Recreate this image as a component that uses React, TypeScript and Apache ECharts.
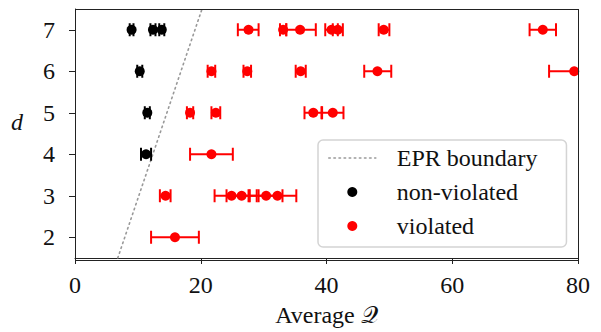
import React, { useEffect, useRef } from "react";
import * as echarts from "echarts";

// d levels and measured average Q with error ranges
const nonViolated: [number, number, number, number][] = [
  // [Q, d, low, high]
  [9.0, 7, 8.7, 9.3],
  [12.4, 7, 12.0, 12.8],
  [13.8, 7, 13.4, 14.2],
  [10.3, 6, 9.9, 10.7],
  [11.5, 5, 11.1, 11.9],
  [11.3, 4, 10.5, 12.1],
];

const violated: [number, number, number, number][] = [
  [27.6, 7, 25.9, 29.2],
  [33.1, 7, 32.6, 33.6],
  [35.8, 7, 33.6, 38.3],
  [40.8, 7, 39.8, 41.8],
  [41.8, 7, 41.0, 42.6],
  [49.1, 7, 48.3, 50.0],
  [74.4, 7, 72.3, 76.5],
  [21.7, 6, 21.1, 22.3],
  [27.4, 6, 26.8, 28.0],
  [35.9, 6, 35.1, 36.7],
  [48.1, 6, 46.0, 50.3],
  [79.4, 6, 75.4, 83.4],
  [18.3, 5, 17.8, 18.8],
  [22.4, 5, 21.7, 23.1],
  [37.9, 5, 36.5, 39.3],
  [41.0, 5, 39.2, 42.7],
  [21.7, 4, 18.3, 25.1],
  [14.4, 3, 13.5, 15.2],
  [24.9, 3, 22.2, 27.6],
  [26.5, 3, 24.1, 28.9],
  [30.4, 3, 27.8, 33.0],
  [32.2, 3, 29.2, 35.2],
  [15.9, 2, 12.1, 19.7],
];

const eprBoundary: [number, number][] = [
  [6.8, 1.5],
  [20.2, 7.5],
];

const xTicks = [0, 20, 40, 60, 80];
const yTicks = [2, 3, 4, 5, 6, 7];

const FONT = "'Liberation Serif', 'DejaVu Serif', serif";
const FS = 24;
const DOT: [number, number] = [1.5, 3.6];

function errorSeries(data: [number, number, number, number][], color: string) {
  return {
    type: "custom",
    clip: true,
    silent: true,
    z: 2,
    data: data.map((p) => [p[2], p[1], p[3]]),
    encode: { x: [0, 2], y: 1 },
    renderItem: (params: any, api: any) => {
      const lo = api.coord([api.value(0), api.value(1)]);
      const hi = api.coord([api.value(2), api.value(1)]);
      const h = 6.5;
      const style = { stroke: color, lineWidth: 2 };
      return {
        type: "group",
        children: [
          { type: "line", shape: { x1: lo[0], y1: lo[1], x2: hi[0], y2: hi[1] }, style },
          { type: "line", shape: { x1: lo[0], y1: lo[1] - h, x2: lo[0], y2: lo[1] + h }, style },
          { type: "line", shape: { x1: hi[0], y1: hi[1] - h, x2: hi[0], y2: hi[1] + h }, style },
        ],
      };
    },
  };
}

export default function App() {
  const ref = useRef<HTMLDivElement>(null);
  useEffect(() => {
    if (!ref.current) return;
    const chart = echarts.init(ref.current, undefined, { renderer: "svg" });
    const axisColor = "#222";
    chart.setOption({
      animation: false,
      backgroundColor: "#fff",
      textStyle: { fontFamily: FONT },
      grid: { left: 75, right: 23, top: 9, bottom: 72, containLabel: false },
      xAxis: {
        type: "value",
        min: 0,
        max: 80,
        name: "Average 𝒬",
        nameLocation: "middle",
        nameGap: 45,
        nameTextStyle: { fontFamily: FONT, fontSize: FS, color: "#111" },
        axisLine: { show: true, lineStyle: { color: axisColor, width: 1 } },
        axisTick: { show: true, length: 6, lineStyle: { color: axisColor }, customValues: xTicks },
        axisLabel: { fontFamily: FONT, fontSize: FS, color: "#111", margin: 15, customValues: xTicks },
        splitLine: { show: false },
      },
      yAxis: {
        type: "value",
        min: 1.5,
        max: 7.5,
        name: "d",
        nameLocation: "middle",
        nameGap: 52,
        nameRotate: 0,
        nameTextStyle: {
          fontFamily: FONT,
          fontSize: FS,
          fontStyle: "italic",
          color: "#111",
          verticalAlign: "bottom",
        },
        axisLine: { show: true, lineStyle: { color: axisColor, width: 1 } },
        axisTick: { show: true, length: 6, lineStyle: { color: axisColor }, customValues: yTicks },
        axisLabel: { fontFamily: FONT, fontSize: FS, color: "#111", margin: 20, customValues: yTicks },
        splitLine: { show: false },
      },
      legend: {
        orient: "vertical",
        left: 318,
        top: 140,
        padding: [6, 29, 9, 10],
        itemGap: 10,
        itemWidth: 47,
        itemHeight: 10,
        borderColor: "#d4d4d4",
        borderWidth: 1.5,
        borderRadius: 5,
        backgroundColor: "rgba(255,255,255,0.85)",
        textStyle: {
          fontFamily: FONT,
          fontSize: FS,
          color: "#111",
          padding: [0, 0, 0, 16],
        },
        data: [
          {
            name: "EPR boundary",
            itemStyle: { opacity: 0 },
            lineStyle: { color: "#999", width: 1.6, type: DOT, cap: "round" },
          },
          { name: "non-violated", icon: "circle" },
          { name: "violated", icon: "circle" },
        ],
      },
      series: [
        {
          name: "EPR boundary",
          type: "line",
          data: eprBoundary,
          symbol: "none",
          z: 1,
          lineStyle: { color: "#999", width: 1.6, type: DOT, cap: "round" },
          itemStyle: { color: "#999" },
        },
        { ...errorSeries(nonViolated, "#000") },
        { ...errorSeries(violated, "#ff0000") },
        {
          name: "non-violated",
          type: "scatter",
          data: nonViolated.map((p) => [p[0], p[1]]),
          symbolSize: 10,
          z: 3,
          itemStyle: { color: "#000", opacity: 1 },
        },
        {
          name: "violated",
          type: "scatter",
          data: violated.map((p) => [p[0], p[1]]),
          symbolSize: 10,
          z: 3,
          itemStyle: { color: "#ff0000", opacity: 1 },
        },
      ],
    });
    return () => chart.dispose();
  }, []);
  return (
    <div style={{ position: "fixed", left: 0, top: 0, width: 601, height: 332, background: "#fff" }}>
      <div ref={ref} style={{ position: "absolute", left: 0, top: 0, width: 601, height: 332 }} />
      <div
        style={{
          position: "absolute",
          left: 75,
          top: 9,
          width: 601 - 75 - 23 + 1,
          height: 332 - 9 - 72 + 1,
          border: "1px solid #222",
          boxSizing: "border-box",
          pointerEvents: "none",
        }}
      />
    </div>
  );
}
